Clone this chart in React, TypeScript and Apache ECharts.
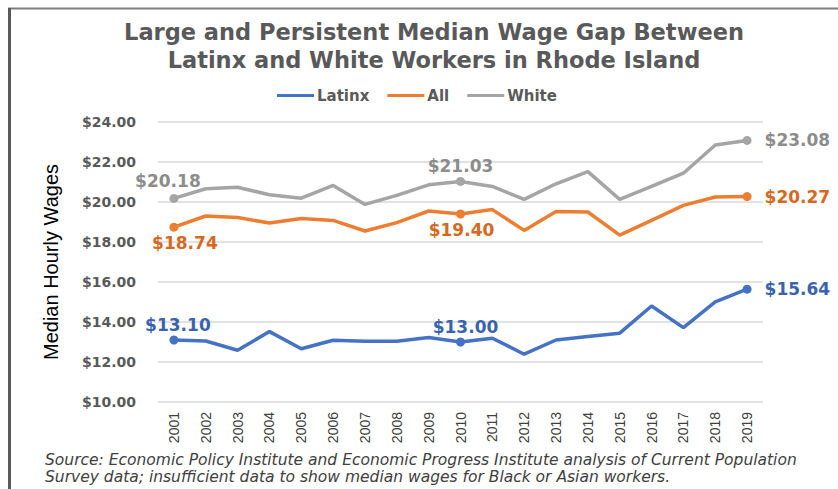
import React, { useEffect, useRef } from "react";
import * as echarts from "echarts";

const years = ["2001","2002","2003","2004","2005","2006","2007","2008","2009","2010","2011","2012","2013","2014","2015","2016","2017","2018","2019"];
const latinx = [13.10, 13.05, 12.59, 13.52, 12.66, 13.09, 13.04, 13.04, 13.22, 13.00, 13.19, 12.39, 13.10, 13.27, 13.44, 14.80, 13.72, 15.01, 15.64];
const allWorkers = [18.74, 19.30, 19.22, 18.95, 19.17, 19.08, 18.55, 18.97, 19.55, 19.40, 19.62, 18.58, 19.53, 19.50, 18.34, 19.08, 19.83, 20.25, 20.27];
const white = [20.18, 20.66, 20.74, 20.36, 20.19, 20.83, 19.88, 20.33, 20.86, 21.03, 20.78, 20.13, 20.91, 21.52, 20.13, 20.78, 21.44, 22.85, 23.08];
const labeledIdx = [0, 9, 18];

const titleText = "Large and Persistent Median Wage Gap Between\nLatinx and White Workers in Rhode Island";
const sourceText = "Source: Economic Policy Institute and Economic Progress Institute analysis of Current Population\nSurvey data; insufficient data to show median wages for Black or Asian workers.";

const fmt = (v: number) => "$" + v.toFixed(2);

type LabelCfg = { position: string; distance: number; offset: number[] };

function buildData(values: number[], labelColor: string, cfgs: LabelCfg[]) {
  return values.map((v, i) => {
    const k = labeledIdx.indexOf(i);
    if (k < 0) return { value: v, symbol: "none" };
    const c = cfgs[k];
    return {
      value: v,
      symbol: "circle",
      symbolSize: 9,
      label: {
        show: true,
        position: c.position,
        distance: c.distance,
        offset: c.offset,
        formatter: (p: any) => fmt(p.value),
        color: labelColor,
        fontFamily: "DejaVu Sans",
        fontWeight: "bold",
        fontSize: 17,
      },
    };
  });
}

export default function App() {
  const ref = useRef<HTMLDivElement>(null);
  useEffect(() => {
    if (!ref.current) return;
    const chart = echarts.init(ref.current, null, { renderer: "svg" });
    const lineSeries = (name: string, color: string, labelColor: string, values: number[], cfgs: LabelCfg[]) => ({
      name,
      type: "line",
      data: buildData(values, labelColor, cfgs),
      lineStyle: { color, width: 3.5 },
      itemStyle: { color },
      showAllSymbol: true,
      emphasis: { disabled: true },
    });
    chart.setOption({
      animation: false,
      backgroundColor: "#ffffff",
      title: {
        text: titleText,
        left: 429,
        top: 13,
        textAlign: "center",
        textStyle: {
          fontFamily: "DejaVu Sans",
          fontWeight: "bold",
          fontSize: 22.5,
          lineHeight: 28,
          color: "#595959",
        },
      },
      legend: {
        top: 88,
        left: 277,
        padding: 0,
        icon: "rect",
        itemWidth: 37,
        itemHeight: 3,
        itemGap: 18,
        textStyle: {
          fontFamily: "DejaVu Sans",
          fontWeight: "bold",
          fontSize: 15,
          color: "#595959",
          padding: [0, 0, 0, -2],
        },
        data: ["Latinx", "All", "White"],
      },
      grid: { left: 158, right: 75, top: 122, bottom: 87, containLabel: false },
      xAxis: {
        type: "category",
        data: years,
        boundaryGap: true,
        axisLine: { show: false },
        axisTick: { show: false },
        axisLabel: {
          rotate: 90,
          margin: 10,
          fontFamily: "Liberation Sans Narrow, Liberation Sans, sans-serif",
          fontSize: 14,
          color: "#404040",
        },
      },
      yAxis: {
        type: "value",
        min: 10,
        max: 24,
        interval: 2,
        name: "Median Hourly Wages",
        nameLocation: "middle",
        nameGap: 97,
        nameTextStyle: {
          fontFamily: "Liberation Sans Narrow, Liberation Sans, sans-serif",
          fontSize: 20,
          color: "#000000",
        },
        axisLabel: {
          formatter: (v: number) => fmt(v),
          margin: 22,
          fontFamily: "DejaVu Sans",
          fontWeight: "bold",
          fontSize: 14,
          color: "#595959",
        },
        splitLine: { lineStyle: { color: "#D9D9D9", width: 1.5 } },
      },
      graphic: [
        { type: "line", shape: { x1: 8, y1: 8.5, x2: 838, y2: 8.5 }, style: { stroke: "#7F7F7F", lineWidth: 2 } },
        { type: "line", shape: { x1: 9.5, y1: 8, x2: 9.5, y2: 489 }, style: { stroke: "#595959", lineWidth: 3 } },
        {
          type: "text",
          left: 45,
          top: 451,
          style: {
            text: sourceText,
            fontFamily: "DejaVu Sans",
            fontStyle: "italic",
            fontSize: 15.5,
            lineHeight: 17,
            fill: "#404040",
          },
        },
      ],
      series: [
        lineSeries("Latinx", "#4472C4", "#3A63AE", latinx, [
          { position: "top", distance: 2, offset: [4, 0] },
          { position: "top", distance: 2, offset: [5, 0] },
          { position: "right", distance: 13, offset: [0, 0] },
        ]),
        lineSeries("All", "#ED7D31", "#D4691F", allWorkers, [
          { position: "bottom", distance: 3, offset: [11, 0] },
          { position: "bottom", distance: 3, offset: [1, 0] },
          { position: "right", distance: 13, offset: [0, 0] },
        ]),
        lineSeries("White", "#A5A5A5", "#8C8C8C", white, [
          { position: "top", distance: 4, offset: [-6, 0] },
          { position: "top", distance: 2, offset: [0, 0] },
          { position: "right", distance: 13, offset: [0, 0] },
        ]),
      ],
    });
    return () => chart.dispose();
  }, []);
  return <div ref={ref} style={{ position: "fixed", left: 0, top: 0, width: 838, height: 489 }} />;
}
